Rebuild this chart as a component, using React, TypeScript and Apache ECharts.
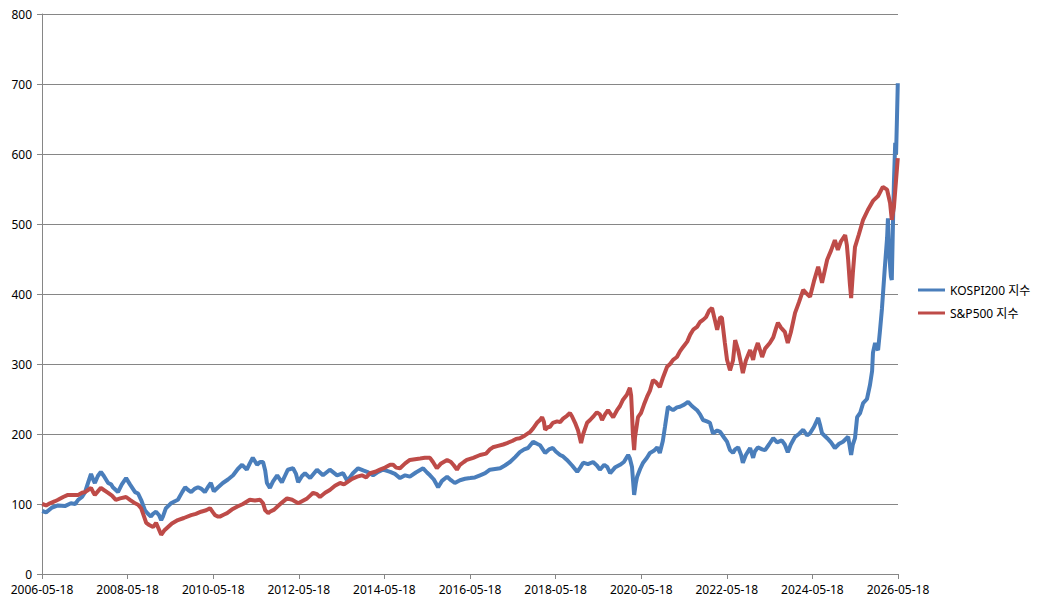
import React, { useEffect, useRef } from "react";
import * as echarts from "echarts";

// Axis definition
const START_YEAR = 2006.375; // 2006-05-18
const X_SPAN_YEARS = 20;
const X_TICK_YEARS = 2;
const Y_MIN = 0;
const Y_MAX = 800;
const Y_STEP = 100;

const seriesNames = ["KOSPI200 지수", "S&P500 지수"];

// KOSPI200 (indexed), dates as decimal years
const kospiYears = [
  2006.38, 2006.47, 2006.61, 2006.75, 2006.91, 2007.05, 2007.15, 2007.22, 2007.31, 2007.38,
  2007.45, 2007.52, 2007.57, 2007.61, 2007.68, 2007.75, 2007.82, 2007.92, 2007.99, 2008.03,
  2008.10, 2008.15, 2008.24, 2008.34, 2008.43, 2008.55, 2008.62, 2008.69, 2008.78, 2008.85,
  2008.92, 2008.97, 2009.04, 2009.11, 2009.16, 2009.20, 2009.27, 2009.34, 2009.39, 2009.48,
  2009.55, 2009.65, 2009.72, 2009.79, 2009.86, 2009.95, 2010.02, 2010.09, 2010.18, 2010.25,
  2010.32, 2010.39, 2010.49, 2010.60, 2010.72, 2010.84, 2010.95, 2011.05, 2011.16, 2011.23,
  2011.30, 2011.40, 2011.47, 2011.54, 2011.59, 2011.63, 2011.70, 2011.77, 2011.87, 2011.98,
  2012.05, 2012.12, 2012.24, 2012.31, 2012.36, 2012.45, 2012.52, 2012.64, 2012.80, 2012.94,
  2013.10, 2013.27, 2013.41, 2013.50, 2013.57, 2013.64, 2013.76, 2013.88, 2013.97, 2014.11,
  2014.23, 2014.34, 2014.51, 2014.62, 2014.74, 2014.86, 2014.97, 2015.11, 2015.28, 2015.37,
  2015.44, 2015.53, 2015.63, 2015.72, 2015.84, 2015.93, 2016.02, 2016.14, 2016.26, 2016.38,
  2016.49, 2016.61, 2016.73, 2016.84, 2016.96, 2017.08, 2017.19, 2017.31, 2017.43, 2017.54,
  2017.64, 2017.73, 2017.85, 2017.94, 2018.01, 2018.13, 2018.22, 2018.31, 2018.38, 2018.48,
  2018.55, 2018.64, 2018.76, 2018.88, 2018.95, 2019.02, 2019.13, 2019.25, 2019.34, 2019.41,
  2019.51, 2019.58, 2019.65, 2019.76, 2019.88, 2019.97, 2020.07, 2020.11, 2020.16, 2020.21,
  2020.25, 2020.28, 2020.35, 2020.42, 2020.51, 2020.58, 2020.67, 2020.75, 2020.81, 2020.88,
  2020.93, 2021.00, 2021.07, 2021.12, 2021.21, 2021.28, 2021.38, 2021.47, 2021.56, 2021.68,
  2021.75, 2021.82, 2021.91, 2021.98, 2022.05, 2022.15, 2022.22, 2022.31, 2022.38, 2022.45,
  2022.52, 2022.57, 2022.64, 2022.71, 2022.75, 2022.82, 2022.92, 2022.99, 2023.03, 2023.10,
  2023.20, 2023.27, 2023.36, 2023.46, 2023.55, 2023.66, 2023.73, 2023.80, 2023.87, 2023.97,
  2024.06, 2024.16, 2024.25, 2024.32, 2024.41, 2024.51, 2024.55, 2024.60, 2024.72, 2024.81,
  2024.90, 2025.00, 2025.09, 2025.21, 2025.25, 2025.28, 2025.32, 2025.37, 2025.42, 2025.49,
  2025.56, 2025.65, 2025.72, 2025.77, 2025.79, 2025.84, 2025.88, 2025.91, 2025.95, 2026.00,
  2026.07, 2026.12, 2026.14, 2026.16, 2026.19, 2026.21, 2026.23, 2026.26, 2026.28, 2026.31,
  2026.33, 2026.35, 2026.37,
];
const kospiValues = [
  90, 88, 95, 98, 97, 101, 100, 106, 110, 117,
  130, 143, 135, 130, 140, 146, 140, 130, 128, 124,
  120, 117, 128, 137, 128, 117, 115, 106, 91, 86,
  82, 86, 89, 84, 77, 82, 94, 98, 101, 104,
  106, 117, 124, 120, 117, 122, 124, 122, 117, 124,
  130, 118, 124, 130, 135, 141, 150, 156, 149, 158,
  166, 156, 160, 160, 148, 130, 123, 132, 141, 131,
  140, 149, 151, 143, 131, 140, 144, 137, 149, 141,
  149, 141, 144, 134, 138, 144, 151, 148, 146, 141,
  146, 149, 146, 143, 137, 141, 139, 145, 151, 145,
  141, 135, 124, 133, 139, 134, 130, 134, 136, 137,
  138, 141, 144, 149, 150, 151, 155, 160, 167, 174,
  178, 180, 189, 186, 184, 173, 178, 180, 175, 170,
  168, 163, 155, 146, 152, 159, 157, 160, 155, 149,
  156, 153, 144, 152, 156, 160, 170, 165, 153, 113,
  130, 139, 150, 159, 166, 173, 176, 181, 173, 190,
  210, 239, 236, 234, 238, 239, 242, 246, 240, 234,
  228, 220, 218, 216, 201, 205, 203, 195, 189, 177,
  173, 178, 181, 170, 159, 170, 180, 166, 175, 181,
  178, 177, 185, 194, 188, 191, 185, 174, 185, 196,
  200, 206, 198, 201, 210, 223, 214, 201, 194, 188,
  180, 186, 189, 196, 181, 170, 185, 194, 224, 230,
  244, 250, 270, 290, 316, 330, 322, 320, 345, 379,
  440, 480, 508, 470, 440, 425, 420, 508, 560, 616,
  600, 649, 701,
];

// S&P500 (indexed), dates as decimal years
const spYears = [
  2006.38, 2006.47, 2006.56, 2006.68, 2006.75, 2006.87, 2006.98, 2007.10, 2007.22, 2007.31,
  2007.38, 2007.45, 2007.52, 2007.57, 2007.61, 2007.68, 2007.75, 2007.82, 2007.92, 2008.01,
  2008.10, 2008.20, 2008.34, 2008.43, 2008.55, 2008.62, 2008.69, 2008.76, 2008.81, 2008.88,
  2008.97, 2009.04, 2009.09, 2009.16, 2009.23, 2009.32, 2009.41, 2009.55, 2009.69, 2009.86,
  2009.97, 2010.09, 2010.21, 2010.30, 2010.37, 2010.42, 2010.49, 2010.53, 2010.63, 2010.70,
  2010.81, 2010.93, 2011.07, 2011.23, 2011.35, 2011.47, 2011.54, 2011.59, 2011.66, 2011.70,
  2011.80, 2011.87, 2011.98, 2012.10, 2012.22, 2012.31, 2012.36, 2012.45, 2012.57, 2012.64,
  2012.71, 2012.80, 2012.87, 2012.99, 2013.10, 2013.22, 2013.34, 2013.43, 2013.50, 2013.62,
  2013.74, 2013.85, 2013.95, 2014.04, 2014.16, 2014.27, 2014.39, 2014.51, 2014.58, 2014.65,
  2014.74, 2014.86, 2014.97, 2015.09, 2015.21, 2015.32, 2015.44, 2015.51, 2015.60, 2015.70,
  2015.84, 2015.93, 2016.00, 2016.07, 2016.14, 2016.23, 2016.30, 2016.45, 2016.61, 2016.75,
  2016.84, 2016.91, 2017.03, 2017.15, 2017.24, 2017.36, 2017.45, 2017.54, 2017.66, 2017.78,
  2017.85, 2017.94, 2018.01, 2018.06, 2018.10, 2018.13, 2018.20, 2018.24, 2018.31, 2018.41,
  2018.48, 2018.55, 2018.64, 2018.71, 2018.76, 2018.83, 2018.90, 2018.97, 2019.02, 2019.11,
  2019.18, 2019.27, 2019.34, 2019.41, 2019.46, 2019.53, 2019.60, 2019.67, 2019.72, 2019.81,
  2019.88, 2019.95, 2020.04, 2020.11, 2020.14, 2020.16, 2020.18, 2020.21, 2020.23, 2020.30,
  2020.37, 2020.44, 2020.51, 2020.58, 2020.65, 2020.72, 2020.81, 2020.88, 2020.98, 2021.05,
  2021.12, 2021.21, 2021.28, 2021.35, 2021.45, 2021.52, 2021.59, 2021.68, 2021.75, 2021.82,
  2021.89, 2021.96, 2022.03, 2022.10, 2022.15, 2022.22, 2022.26, 2022.33, 2022.38, 2022.45,
  2022.52, 2022.57, 2022.64, 2022.71, 2022.75, 2022.82, 2022.92, 2022.99, 2023.03, 2023.10,
  2023.20, 2023.27, 2023.38, 2023.46, 2023.53, 2023.57, 2023.64, 2023.73, 2023.80, 2023.87,
  2023.97, 2024.06, 2024.16, 2024.25, 2024.32, 2024.41, 2024.51, 2024.60, 2024.72, 2024.81,
  2024.90, 2024.97, 2025.04, 2025.14, 2025.18, 2025.21, 2025.25, 2025.28, 2025.32, 2025.37,
  2025.46, 2025.56, 2025.67, 2025.79, 2025.91, 2026.02, 2026.12, 2026.19, 2026.23, 2026.28,
  2026.33, 2026.37,
];
const spValues = [
  100, 98, 101, 104, 106, 110, 113, 113, 113, 116,
  117, 120, 123, 117, 113, 118, 123, 120, 116, 112,
  106, 108, 110, 106, 101, 99, 94, 82, 73, 70,
  67, 73, 66, 56, 62, 67, 72, 77, 80, 84,
  86, 89, 91, 94, 88, 84, 82, 82, 85, 87,
  92, 96, 100, 106, 105, 106, 101, 91, 87, 89,
  92, 96, 102, 108, 106, 103, 101, 104, 108, 112,
  116, 114, 110, 116, 120, 126, 130, 128, 131, 136,
  139, 141, 138, 144, 146, 149, 152, 156, 156, 152,
  151, 158, 163, 164, 165, 166, 166, 160, 151, 158,
  163, 160, 155, 149, 156, 160, 163, 166, 170, 172,
  178, 181, 183, 185, 187, 190, 193, 194, 198, 203,
  208, 216, 220, 224, 218, 206, 210, 210, 216, 218,
  217, 222, 226, 230, 225, 216, 205, 187, 200, 216,
  220, 226, 231, 228, 220, 228, 234, 228, 224, 234,
  240, 249, 256, 266, 255, 230, 200, 177, 195, 224,
  230, 242, 253, 262, 277, 274, 267, 280, 296, 300,
  306, 310, 318, 324, 332, 342, 349, 353, 360, 363,
  367, 376, 380, 362, 349, 367, 366, 330, 306, 291,
  305, 334, 320, 300, 287, 305, 320, 306, 318, 330,
  310, 322, 330, 338, 352, 359, 352, 346, 330, 345,
  373, 388, 406, 400, 396, 418, 439, 416, 449, 462,
  477, 463, 475, 484, 470, 449, 415, 394, 430, 467,
  485, 506, 520, 533, 540, 553, 549, 530, 506, 524,
  563, 594,
];

const BLUE = "#4A7EBB";
const RED = "#BE4B48";
const GRID_COLOR = "#868686";
const FONT = "'Noto Sans', 'Noto Sans CJK KR', sans-serif";

const toPoints = (years: number[], values: number[]) =>
  years.map((y, i) => [y - START_YEAR, values[i]]);

export default function App() {
  const ref = useRef<HTMLDivElement>(null);

  useEffect(() => {
    if (!ref.current) return;
    const chart = echarts.init(ref.current, undefined, { renderer: "svg" });
    chart.setOption({
      animation: false,
      backgroundColor: "#ffffff",
      textStyle: { fontFamily: FONT },
      grid: { left: 42, right: 145, top: 14, bottom: 34, containLabel: false },
      xAxis: {
        type: "value",
        min: 0,
        max: X_SPAN_YEARS,
        interval: X_TICK_YEARS,
        axisLine: { show: true, lineStyle: { color: GRID_COLOR, width: 1 } },
        axisTick: { show: true, length: 5, lineStyle: { color: GRID_COLOR } },
        axisLabel: {
          color: "#000",
          fontSize: 12,
          fontFamily: FONT,
          margin: 9,
          formatter: (v: number) => `${Math.round(2006 + v)}-05-18`,
        },
        splitLine: { show: false },
      },
      yAxis: {
        type: "value",
        min: Y_MIN,
        max: Y_MAX,
        interval: Y_STEP,
        axisLine: { show: true, lineStyle: { color: GRID_COLOR, width: 1 } },
        axisTick: { show: true, length: 5, lineStyle: { color: GRID_COLOR } },
        axisLabel: { color: "#000", fontSize: 12, fontFamily: FONT, margin: 10 },
        splitLine: { show: true, lineStyle: { color: GRID_COLOR, width: 1 } },
      },
      legend: {
        orient: "vertical",
        left: 918,
        top: 284,
        padding: 0,
        itemWidth: 27,
        itemHeight: 3,
        itemGap: 11,
        icon: "rect",
        textStyle: { color: "#000", fontSize: 12, fontFamily: FONT },
        data: seriesNames,
      },
      series: [
        {
          name: seriesNames[0],
          type: "line",
          data: toPoints(kospiYears, kospiValues),
          symbol: "none",
          showSymbol: false,
          lineStyle: { color: BLUE, width: 4 },
          itemStyle: { color: BLUE },
        },
        {
          name: seriesNames[1],
          type: "line",
          data: toPoints(spYears, spValues),
          symbol: "none",
          showSymbol: false,
          lineStyle: { color: RED, width: 4 },
          itemStyle: { color: RED },
        },
      ],
    });
    return () => chart.dispose();
  }, []);

  return (
    <div
      ref={ref}
      style={{ position: "absolute", left: 0, top: 0, width: 1043, height: 608 }}
    />
  );
}
